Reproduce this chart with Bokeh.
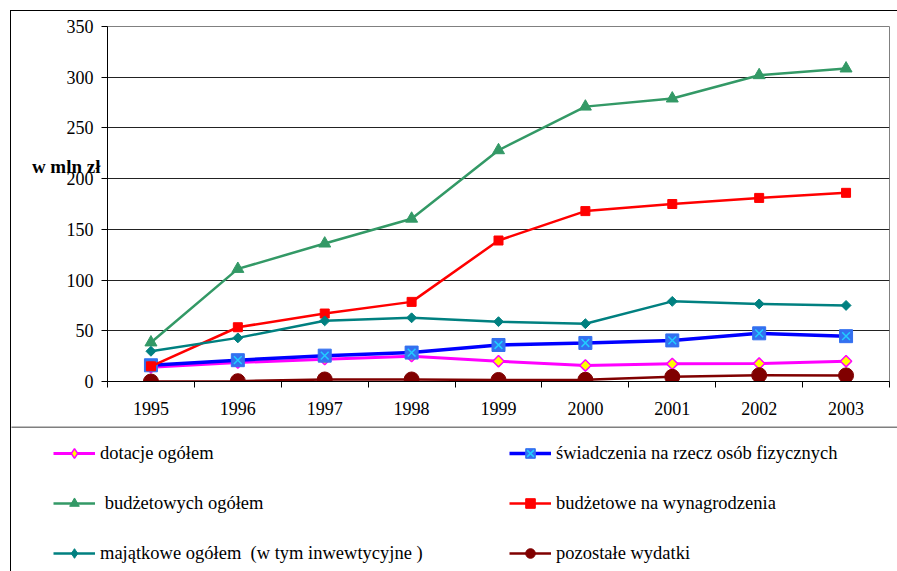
import numpy as np
from bokeh.plotting import figure
from bokeh.layouts import column
from bokeh.models import (FixedTicker, Legend, LegendItem, BoxAnnotation, Range1d)
from bokeh.embed import file_html
from bokeh.resources import INLINE

years = ["1995", "1996", "1997", "1998", "1999", "2000", "2001", "2002", "2003"]
dotacje = [14, 18.7, 22, 25, 20, 15.8, 17.4, 17.7, 20]
swiadczenia = [16, 21, 25.5, 28.5, 36, 38, 40.5, 47.5, 44.7]
budzetowych = [38.5, 111, 136, 160.5, 228, 271, 279, 302, 308.6]
wynagrodzenia = [15, 53.5, 67, 78.5, 139, 168, 175, 181, 186]
majatkowe = [29.8, 43, 59.8, 62.8, 59, 57, 79, 76.5, 75]
pozostale = [0, 0.3, 2, 2, 1.5, 1.7, 4.6, 6.2, 6]
y_ticks = [0, 50, 100, 150, 200, 250, 300, 350]

labels = ["dotacje ogółem", "świadczenia na rzecz osób fizycznych",
          " budżetowych ogółem", "budżetowe na wynagrodzenia",
          "majątkowe ogółem  (w tym inwewtycyjne )", "pozostałe wydatki"]
y_title = "w mln zł"

x = list(np.arange(1, len(years) + 1))
FONT = "Liberation Serif"


def add_series(fig, visible=True, diamond="square", dangle=np.pi / 4):
    r = {}
    r["dot_l"] = fig.line(x, dotacje, line_color="#FF00FF", line_width=3)
    r["dot_m"] = fig.scatter(x, dotacje, marker=diamond, angle=dangle, size=8,
                             fill_color="#FFFF00", line_color="#FF00FF", line_width=1.5)
    r["sw_l"] = fig.line(x, swiadczenia, line_color="#0000FF", line_width=3.5)
    r["sw_m"] = fig.scatter(x, swiadczenia, marker="square", size=13,
                            fill_color="#3370F0", line_color="#3370F0")
    r["sw_x"] = fig.scatter(x, swiadczenia, marker="x", size=11,
                            line_color="#22CCFF", line_width=1.5)
    r["bo_l"] = fig.line(x, budzetowych, line_color="#339966", line_width=2.5)
    r["bo_m"] = fig.scatter(x, budzetowych, marker="triangle", size=12,
                            fill_color="#339966", line_color="#339966")
    r["bw_l"] = fig.line(x, wynagrodzenia, line_color="#FF0000", line_width=2.5)
    r["bw_m"] = fig.scatter(x, wynagrodzenia, marker="square", size=9,
                            fill_color="#FF0000", line_color="#FF0000")
    r["ma_l"] = fig.line(x, majatkowe, line_color="#008080", line_width=2.5)
    r["ma_m"] = fig.scatter(x, majatkowe, marker=diamond, angle=dangle, size=7,
                            fill_color="#008080", line_color="#008080")
    r["po_l"] = fig.line(x, pozostale, line_color="#800000", line_width=2.5)
    r["po_m"] = fig.scatter(x, pozostale, marker="circle", size=15,
                            fill_color="#800000", line_color="#800000")
    for v in r.values():
        v.visible = visible
    return r


# ---------------- chart ----------------
p = figure(width=886, height=415, output_backend="svg", toolbar_location=None,
           x_range=Range1d(0.5, len(years) + 0.5), y_range=Range1d(0, 350),
           min_border_left=96, min_border_right=8, min_border_top=15,
           min_border_bottom=45)
p.frame_align = False
p.background_fill_color = "white"
p.border_fill_color = "white"
p.outline_line_color = "#808080"

p.xaxis.ticker = FixedTicker(ticks=x, minor_ticks=[v + 0.5 for v in [0] + x])
p.xaxis.major_label_overrides = {int(i): y for i, y in zip(x, years)}
p.xaxis.major_tick_out = 0
p.xaxis.major_tick_in = 0
p.xaxis.minor_tick_out = 6
p.xaxis.minor_tick_in = 0
p.xaxis.minor_tick_line_color = "black"
p.xaxis.axis_line_color = "black"
p.xaxis.major_label_standoff = 14
p.yaxis.ticker = FixedTicker(ticks=y_ticks)
p.yaxis.major_tick_out = 6
p.yaxis.major_tick_in = 0
p.yaxis.minor_tick_line_color = None
p.yaxis.major_tick_line_color = "black"
p.yaxis.axis_line_color = "black"
p.yaxis.major_label_standoff = 8
for ax in (p.xaxis, p.yaxis):
    ax.major_label_text_font = FONT
    ax.major_label_text_font_size = "18px"
    ax.major_label_text_color = "black"

p.yaxis.axis_label = y_title + "\n\n\n"
p.yaxis.axis_label_orientation = "horizontal"
p.yaxis.axis_label_text_font = FONT
p.yaxis.axis_label_text_font_size = "19px"
p.yaxis.axis_label_text_font_style = "bold"
p.yaxis.axis_label_text_color = "black"
p.yaxis.axis_label_standoff = -37

p.xgrid.grid_line_color = None
p.ygrid.ticker = FixedTicker(ticks=y_ticks)
p.ygrid.grid_line_color = "#222222"
p.ygrid.grid_line_width = 1

add_series(p)

# ---------------- legend panel ----------------
q = figure(width=886, height=145, output_backend="svg", toolbar_location=None,
           x_range=Range1d(0, 1), y_range=Range1d(0, 1),
           x_axis_location=None, y_axis_location=None,
           min_border=0)
q.frame_align = False
q.grid.visible = False
q.outline_line_color = None
q.background_fill_color = "white"
q.border_fill_color = "white"
rq = add_series(q, visible=False, diamond="diamond", dangle=0)

items = [
    LegendItem(label=labels[0], renderers=[rq["dot_l"], rq["dot_m"]]),
    LegendItem(label=labels[1], renderers=[rq["sw_l"], rq["sw_m"], rq["sw_x"]]),
    LegendItem(label=labels[2], renderers=[rq["bo_l"], rq["bo_m"]]),
    LegendItem(label=labels[3], renderers=[rq["bw_l"], rq["bw_m"]]),
    LegendItem(label=labels[4], renderers=[rq["ma_l"], rq["ma_m"]]),
    LegendItem(label=labels[5], renderers=[rq["po_l"], rq["po_m"]]),
]


def make_legend(its, loc):
    return Legend(items=its, location=loc, orientation="vertical",
                  glyph_width=42, glyph_height=24, label_height=24,
                  label_standoff=5, spacing=26, padding=0, margin=0,
                  border_line_color=None, background_fill_alpha=0,
                  label_text_font=FONT, label_text_font_size="18.5px",
                  label_text_color="black", click_policy="none")


q.add_layout(make_legend([items[0], items[2], items[4]], (42, 6)), "center")
q.add_layout(make_legend([items[1], items[3], items[5]], (498, 6)), "center")

# separator line between chart and legend
q.add_layout(BoxAnnotation(left=-10, right=2000, top=144.5, bottom=-100,
                           left_units="screen", right_units="screen",
                           top_units="screen", bottom_units="screen",
                           fill_alpha=0, line_color="black", line_alpha=1.0,
                           line_width=1))

layout = column(p, q, spacing=0, margin=(10, 0, 0, 10),
                styles={"border-left": "1px solid black",
                        "border-top": "1px solid black"})

open("out.html", "w").write(file_html(layout, INLINE))
